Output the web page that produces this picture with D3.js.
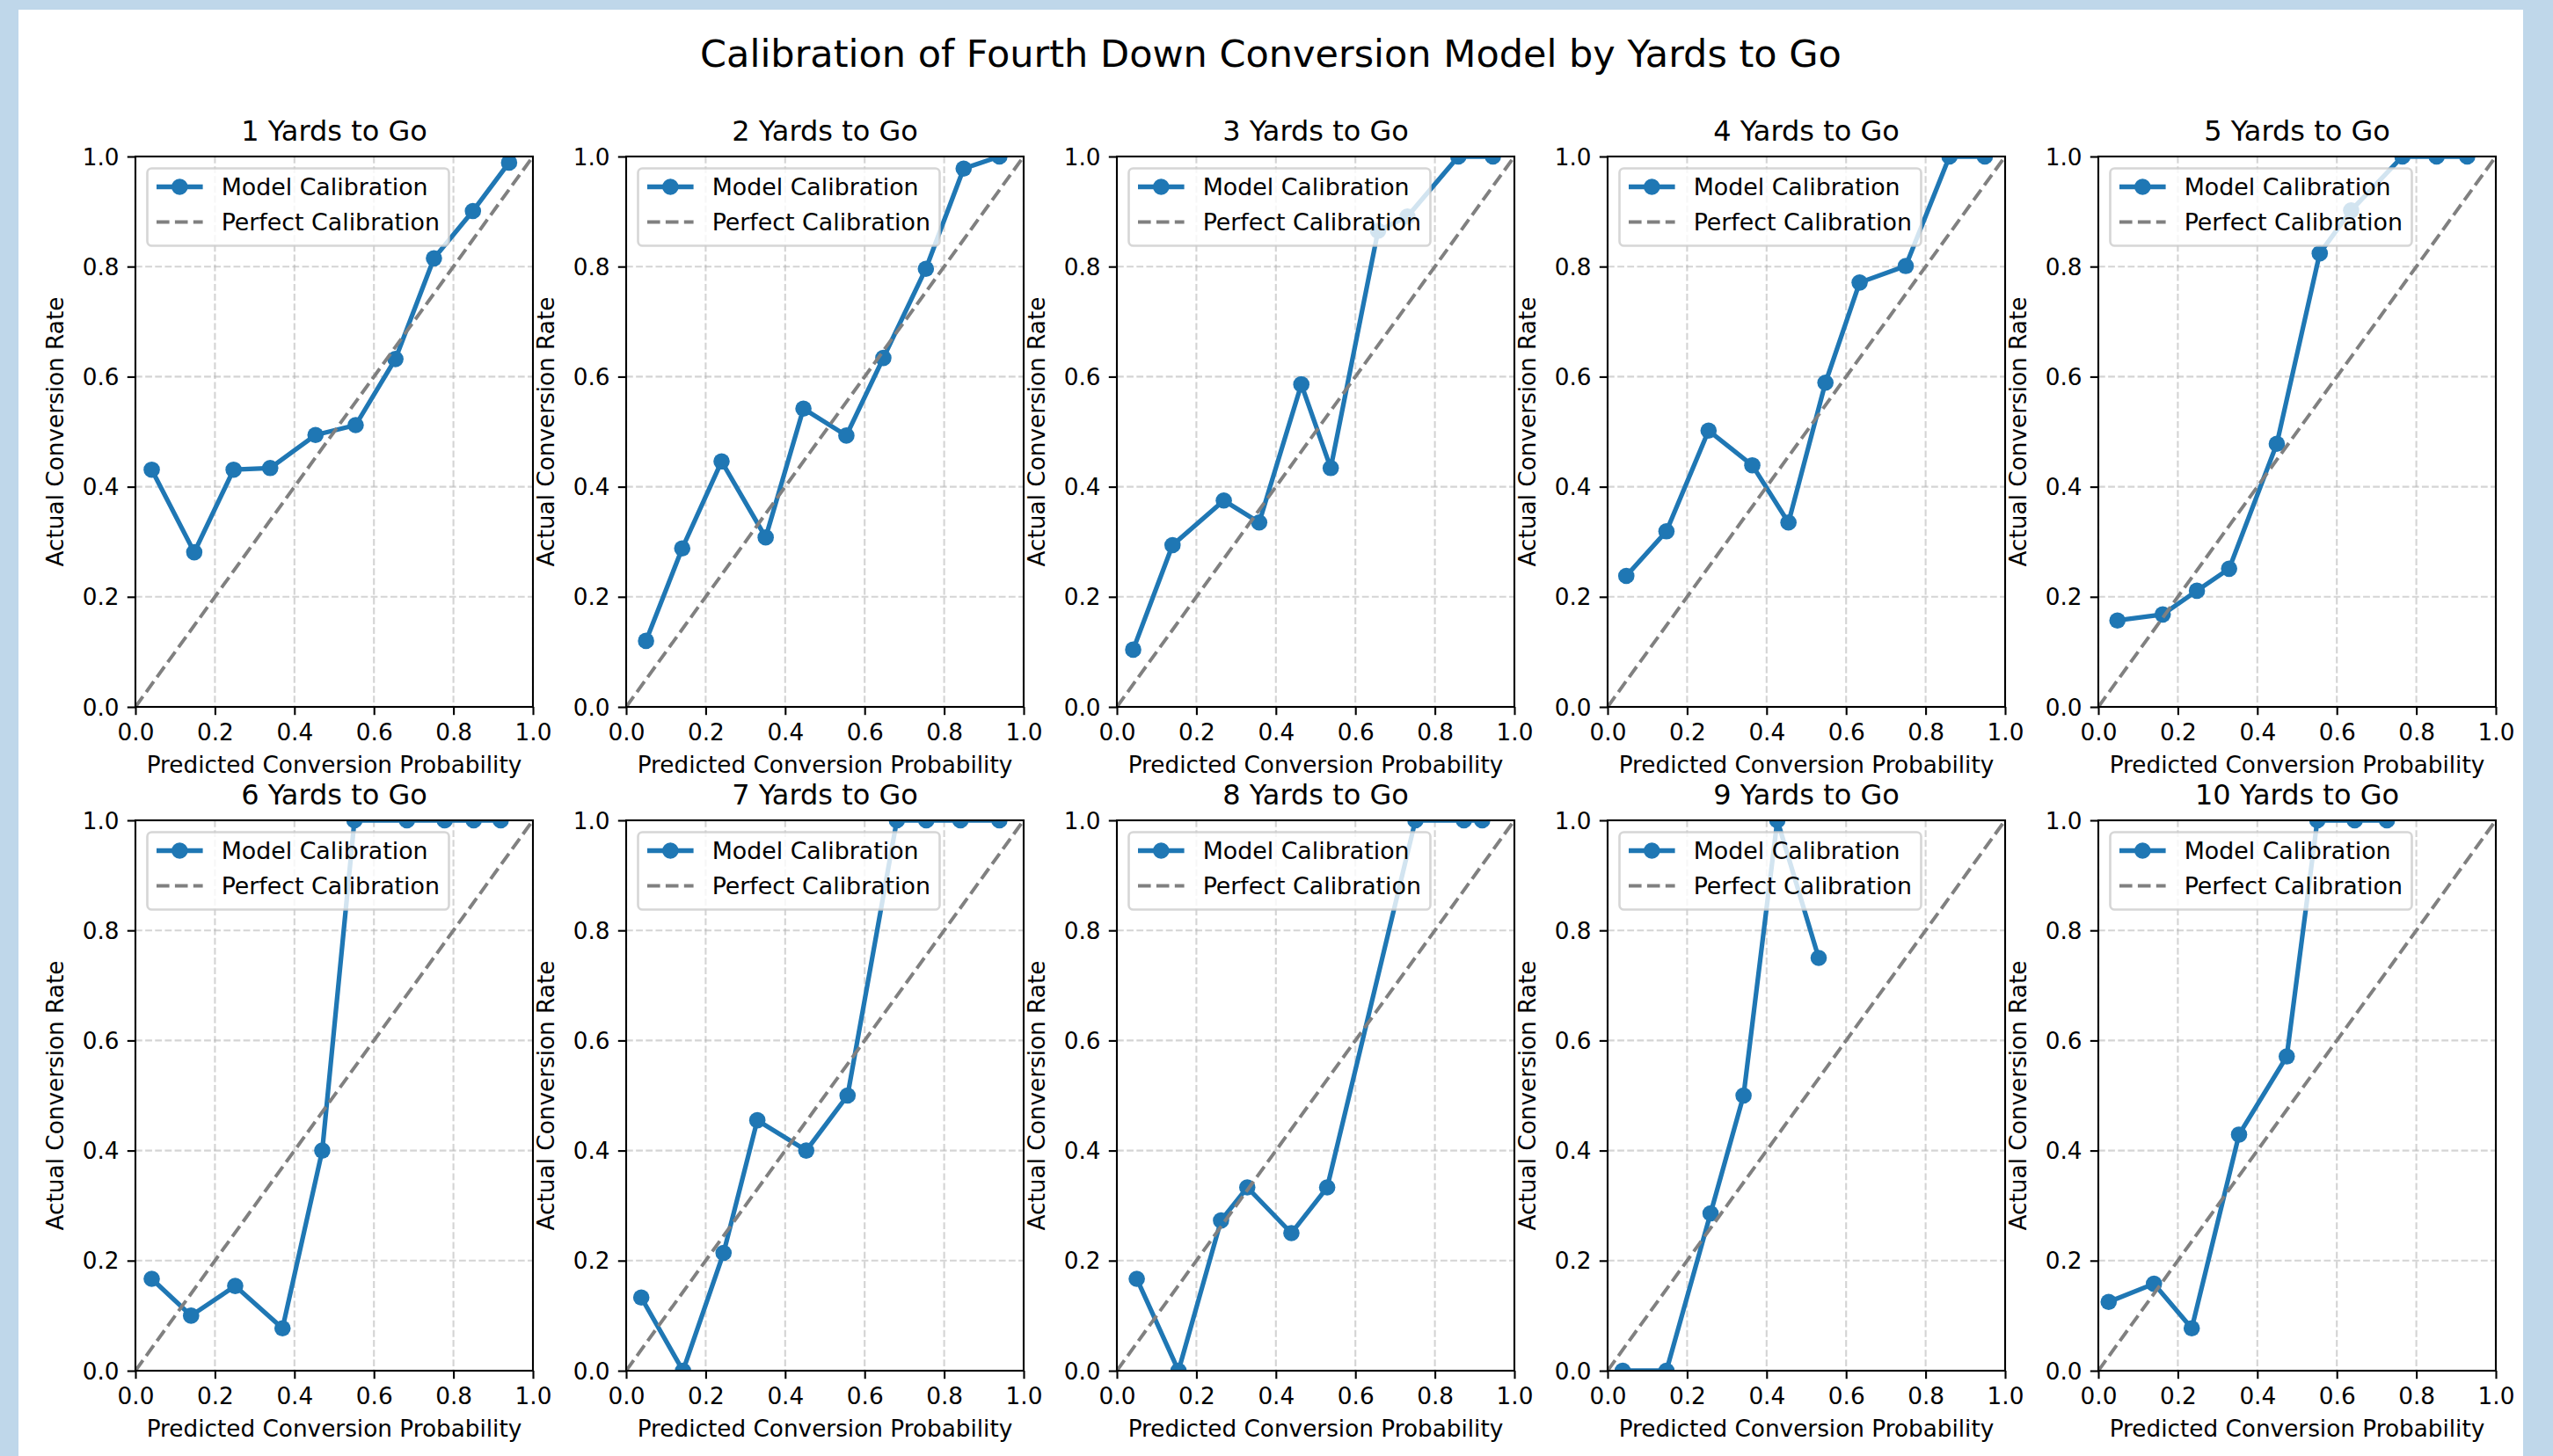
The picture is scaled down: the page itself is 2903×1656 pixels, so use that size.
<!DOCTYPE html>
<html>
<head>
<meta charset="utf-8">
<script src="https://cdn.jsdelivr.net/npm/d3@7"></script>
<style>
  html, body { margin: 0; padding: 0; background: #bfd7ea; }
  svg { display: block; }
  text { font-family: "DejaVu Sans", sans-serif; fill: #000; }
</style>
</head>
<body>
<svg id="chart" width="2903" height="1656"></svg>
<script>
// ---------------- DATA ----------------
const chartTitle = "Calibration of Fourth Down Conversion Model by Yards to Go";
const yardsToGo = [1, 2, 3, 4, 5, 6, 7, 8, 9, 10];
const xAxisLabel = "Predicted Conversion Probability";
const yAxisLabel = "Actual Conversion Rate";
const legendLabels = ["Model Calibration", "Perfect Calibration"];
const tickValues = [0, 0.2, 0.4, 0.6, 0.8, 1.0];
const tickLabels = ["0.0", "0.2", "0.4", "0.6", "0.8", "1.0"];

const pred1 = [0.041, 0.148, 0.247, 0.339, 0.453, 0.554, 0.654, 0.751, 0.849, 0.940];
const act1  = [0.431, 0.281, 0.431, 0.434, 0.494, 0.512, 0.632, 0.815, 0.901, 0.989];
const pred2 = [0.050, 0.141, 0.240, 0.351, 0.446, 0.554, 0.647, 0.754, 0.849, 0.939];
const act2  = [0.120, 0.288, 0.446, 0.308, 0.542, 0.493, 0.634, 0.796, 0.978, 1.000];
const pred3 = [0.041, 0.140, 0.269, 0.358, 0.464, 0.538, 0.657, 0.731, 0.859, 0.946];
const act3  = [0.104, 0.294, 0.375, 0.335, 0.586, 0.434, 0.865, 0.891, 1.000, 1.000];
const pred4 = [0.047, 0.148, 0.254, 0.364, 0.455, 0.548, 0.634, 0.750, 0.860, 0.949];
const act4  = [0.238, 0.319, 0.502, 0.439, 0.335, 0.589, 0.771, 0.801, 1.000, 1.000];
const pred5 = [0.048, 0.162, 0.248, 0.329, 0.449, 0.557, 0.636, 0.765, 0.851, 0.928];
const act5  = [0.157, 0.168, 0.211, 0.251, 0.478, 0.824, 0.902, 1.000, 1.000, 1.000];
const pred6 = [0.041, 0.140, 0.251, 0.370, 0.470, 0.551, 0.683, 0.778, 0.851, 0.919];
const act6  = [0.167, 0.100, 0.154, 0.077, 0.400, 1.000, 1.000, 1.000, 1.000, 1.000];
const pred7 = [0.038, 0.143, 0.245, 0.330, 0.453, 0.557, 0.681, 0.755, 0.841, 0.939];
const act7  = [0.133, 0.000, 0.214, 0.455, 0.400, 0.500, 1.000, 1.000, 1.000, 1.000];
const pred8 = [0.050, 0.155, 0.262, 0.328, 0.439, 0.529, 0.751, 0.873, 0.919];
const act8  = [0.167, 0.000, 0.273, 0.333, 0.250, 0.333, 1.000, 1.000, 1.000];
const pred9 = [0.038, 0.148, 0.259, 0.342, 0.427, 0.531];
const act9  = [0.000, 0.000, 0.286, 0.500, 1.000, 0.750];
const pred10 = [0.026, 0.140, 0.235, 0.354, 0.474, 0.551, 0.645, 0.726];
const act10  = [0.125, 0.158, 0.077, 0.429, 0.571, 1.000, 1.000, 1.000];

const predicted = [pred1, pred2, pred3, pred4, pred5, pred6, pred7, pred8, pred9, pred10];
const actual = [act1, act2, act3, act4, act5, act6, act7, act8, act9, act10];

// ---------------- LAYOUT ----------------
const PT = 2.63;               // px per point
const panelW = 452, panelH = 626;
const colLeft = [154, 712, 1270, 1828, 2386];
const rowTop = [178, 933];
const blue = "#1f77b4";
const markerR = 9.3;

const svg = d3.select("#chart");
svg.append("rect").attr("x", 0).attr("y", 0).attr("width", 2903).attr("height", 1656).attr("fill", "#bfd7ea");
svg.append("rect").attr("x", 21).attr("y", 11).attr("width", 2848).attr("height", 1645).attr("fill", "#ffffff");

svg.append("text")
  .attr("x", 1445).attr("y", 61)
  .attr("text-anchor", "middle").attr("dominant-baseline", "central")
  .attr("font-size", 43)
  .text(chartTitle);

const x = d3.scaleLinear().domain([0, 1]).range([0, panelW]);
const y = d3.scaleLinear().domain([0, 1]).range([panelH, 0]);
const fmt = v => tickLabels[tickValues.indexOf(v)];

yardsToGo.forEach((yd, i) => {
  const col = i % 5, row = Math.floor(i / 5);
  const g = svg.append("g").attr("transform", `translate(${colLeft[col]},${rowTop[row]})`);
  const clipId = "clip" + i;
  g.append("clipPath").attr("id", clipId)
    .append("rect").attr("x", 0).attr("y", 0).attr("width", panelW).attr("height", panelH);

  // grid
  const grid = g.append("g").attr("stroke", "#b0b0b0").attr("stroke-opacity", 0.55)
    .attr("stroke-width", 0.8 * PT).attr("stroke-dasharray", `${3.7 * 0.8 * PT},${1.6 * 0.8 * PT}`);
  grid.selectAll("line.v").data(tickValues).join("line").attr("class", "v")
    .attr("x1", d => x(d)).attr("x2", d => x(d)).attr("y1", 0).attr("y2", panelH);
  grid.selectAll("line.h").data(tickValues).join("line").attr("class", "h")
    .attr("y1", d => y(d)).attr("y2", d => y(d)).attr("x1", 0).attr("x2", panelW);

  const pts = predicted[i].map((p, k) => ({ p, a: actual[i][k] }));
  const plotG = g.append("g").attr("clip-path", `url(#${clipId})`);
  plotG.append("path").datum(pts)
    .attr("d", d3.line().x(d => x(d.p)).y(d => y(d.a)))
    .attr("fill", "none").attr("stroke", blue).attr("stroke-width", 2 * PT)
    .attr("stroke-linejoin", "round");
  plotG.selectAll("circle").data(pts).join("circle")
    .attr("cx", d => x(d.p)).attr("cy", d => y(d.a)).attr("r", markerR).attr("fill", blue);
  plotG.append("line")
    .attr("x1", x(0)).attr("y1", y(0)).attr("x2", x(1)).attr("y2", y(1))
    .attr("stroke", "#808080").attr("stroke-width", 1.5 * PT)
    .attr("stroke-dasharray", `${3.7 * 1.5 * PT},${1.6 * 1.5 * PT}`);

  // axes
  const xAxis = g.append("g").attr("transform", `translate(0,${panelH})`)
    .call(d3.axisBottom(x).tickValues(tickValues).tickFormat(fmt).tickSize(3.5 * PT).tickPadding(3.5 * PT));
  const yAxis = g.append("g")
    .call(d3.axisLeft(y).tickValues(tickValues).tickFormat(fmt).tickSize(3.5 * PT).tickPadding(3.5 * PT));
  [xAxis, yAxis].forEach(ax => {
    ax.select(".domain").remove();
    ax.selectAll(".tick line").attr("stroke", "#000").attr("stroke-width", 0.8 * PT);
    ax.selectAll(".tick text").attr("font-size", 10 * PT).attr("fill", "#000")
      .attr("font-family", "DejaVu Sans, sans-serif");
  });
  xAxis.selectAll(".tick text").attr("dy", null).attr("y", 29).attr("dominant-baseline", "central");
  yAxis.selectAll(".tick text").attr("dy", null).attr("dominant-baseline", "central");

  // spines
  g.append("rect").attr("x", 0).attr("y", 0).attr("width", panelW).attr("height", panelH)
    .attr("fill", "none").attr("stroke", "#000").attr("stroke-width", 0.8 * PT);

  // labels
  g.append("text").attr("x", panelW / 2).attr("y", -29)
    .attr("text-anchor", "middle").attr("dominant-baseline", "central")
    .attr("font-size", 32).text(`${yd} Yards to Go`);
  g.append("text").attr("x", panelW / 2).attr("y", panelH + 66)
    .attr("text-anchor", "middle").attr("dominant-baseline", "central")
    .attr("font-size", 10 * PT).text(xAxisLabel);
  g.append("text")
    .attr("transform", `translate(-91,${panelH / 2}) rotate(-90)`)
    .attr("text-anchor", "middle").attr("dominant-baseline", "central")
    .attr("font-size", 10 * PT).text(yAxisLabel);

  // legend
  const lg = g.append("g").attr("transform", "translate(13.5,13.5)");
  lg.append("rect").attr("x", 0).attr("y", 0).attr("width", 343).attr("height", 88)
    .attr("rx", 5).attr("fill", "#fff").attr("fill-opacity", 0.8)
    .attr("stroke", "#cccccc").attr("stroke-opacity", 0.8).attr("stroke-width", 1 * PT);
  const rowsY = [21, 61];
  const hx0 = 10.5, hx1 = 10.5 + 2 * 10 * PT;
  lg.append("line").attr("x1", hx0).attr("x2", hx1).attr("y1", rowsY[0]).attr("y2", rowsY[0])
    .attr("stroke", blue).attr("stroke-width", 2 * PT);
  lg.append("circle").attr("cx", (hx0 + hx1) / 2).attr("cy", rowsY[0]).attr("r", markerR).attr("fill", blue);
  lg.append("line").attr("x1", hx0).attr("x2", hx1).attr("y1", rowsY[1]).attr("y2", rowsY[1])
    .attr("stroke", "#808080").attr("stroke-width", 1.5 * PT)
    .attr("stroke-dasharray", `${3.7 * 1.5 * PT},${1.6 * 1.5 * PT}`);
  legendLabels.forEach((lab, k) => {
    lg.append("text").attr("x", hx1 + 0.8 * 10 * PT).attr("y", rowsY[k])
      .attr("dominant-baseline", "central").attr("font-size", 10.2 * PT).text(lab);
  });
});
</script>
</body>
</html>
